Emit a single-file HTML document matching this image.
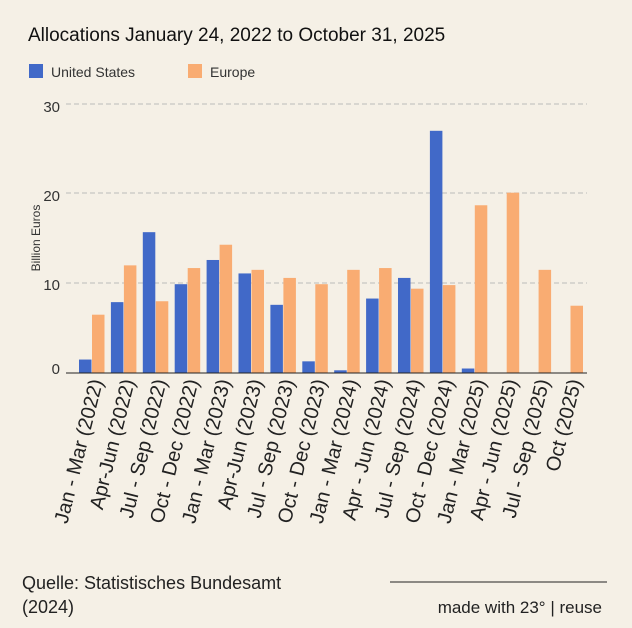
<!DOCTYPE html>
<html><head><meta charset="utf-8"><style>
body{margin:0;background:#f5f0e6;}
svg{display:block;font-family:"Liberation Sans",Arial,sans-serif;}
</style></head><body>
<svg width="632" height="628" viewBox="0 0 632 628" xmlns="http://www.w3.org/2000/svg">
<rect width="632" height="628" fill="#f5f0e6"/>
<text x="28" y="41" font-size="19" fill="#111">Allocations January 24, 2022 to October 31, 2025</text>
<rect x="29" y="64" width="14" height="14" fill="#4169c8"/>
<text x="51" y="77" font-size="14" fill="#333">United States</text>
<rect x="188" y="64" width="14" height="14" fill="#f9ac72"/>
<text x="210" y="77" font-size="14" fill="#333">Europe</text>
<g stroke="#bbb" stroke-dasharray="5,3" stroke-width="1">
<line x1="66" y1="104" x2="587" y2="104"/>
<line x1="66" y1="193" x2="587" y2="193"/>
<line x1="66" y1="283" x2="587" y2="283"/>
</g>
<g font-size="15" fill="#333" text-anchor="end">
<text x="60" y="112">30</text><text x="60" y="201">20</text><text x="60" y="290">10</text><text x="60" y="374">0</text>
</g>
<text transform="translate(40,238) rotate(-90)" font-size="12" fill="#333" text-anchor="middle">Billion Euros</text>
<g id="bars"></g>
<line x1="66" y1="373" x2="587" y2="373" stroke="#222" stroke-width="1"/>
<g id="labels" font-size="20" fill="#222"></g>
<text x="22" y="589" font-size="18" fill="#222">Quelle: Statistisches Bundesamt</text>
<text x="22" y="613" font-size="18" fill="#222">(2024)</text>
<line x1="390" y1="582" x2="607" y2="582" stroke="#222" stroke-width="1"/>
<text x="602" y="613" font-size="17" fill="#222" text-anchor="end">made with 23° | reuse</text>
<script>
var us=[1.5,7.9,15.7,9.9,12.6,11.1,7.6,1.3,0.3,8.3,10.6,27,0.5,0,0,0];
var eu=[6.5,12,8,11.7,14.3,11.5,10.6,9.9,11.5,11.7,9.4,9.8,18.7,20.1,11.5,7.5];
var lb=["Jan - Mar (2022)","Apr-Jun (2022)","Jul - Sep (2022)","Oct - Dec (2022)","Jan - Mar (2023)","Apr-Jun (2023)","Jul - Sep (2023)","Oct - Dec (2023)","Jan - Mar (2024)","Apr - Jun (2024)","Jul - Sep (2024)","Oct - Dec (2024)","Jan - Mar (2025)","Apr - Jun (2025)","Jul - Sep (2025)","Oct (2025)"];
var ns="http://www.w3.org/2000/svg",b=document.getElementById("bars"),l=document.getElementById("labels");
for(var i=0;i<16;i++){var x=79+i*31.9;
[[us[i],x,"#4169c8"],[eu[i],x+13,"#f9ac72"]].forEach(function(d){if(d[0]<=0)return;var h=d[0]*8.97;var r=document.createElementNS(ns,"rect");r.setAttribute("x",d[1]);r.setAttribute("y",373-h);r.setAttribute("width",12.5);r.setAttribute("height",h);r.setAttribute("fill",d[2]);b.appendChild(r);});
var t=document.createElementNS(ns,"text");t.setAttribute("text-anchor","end");t.setAttribute("transform","translate("+(x+24)+",381) rotate(-76)");t.textContent=lb[i];l.appendChild(t);}
</script>
</svg>
</body></html>
